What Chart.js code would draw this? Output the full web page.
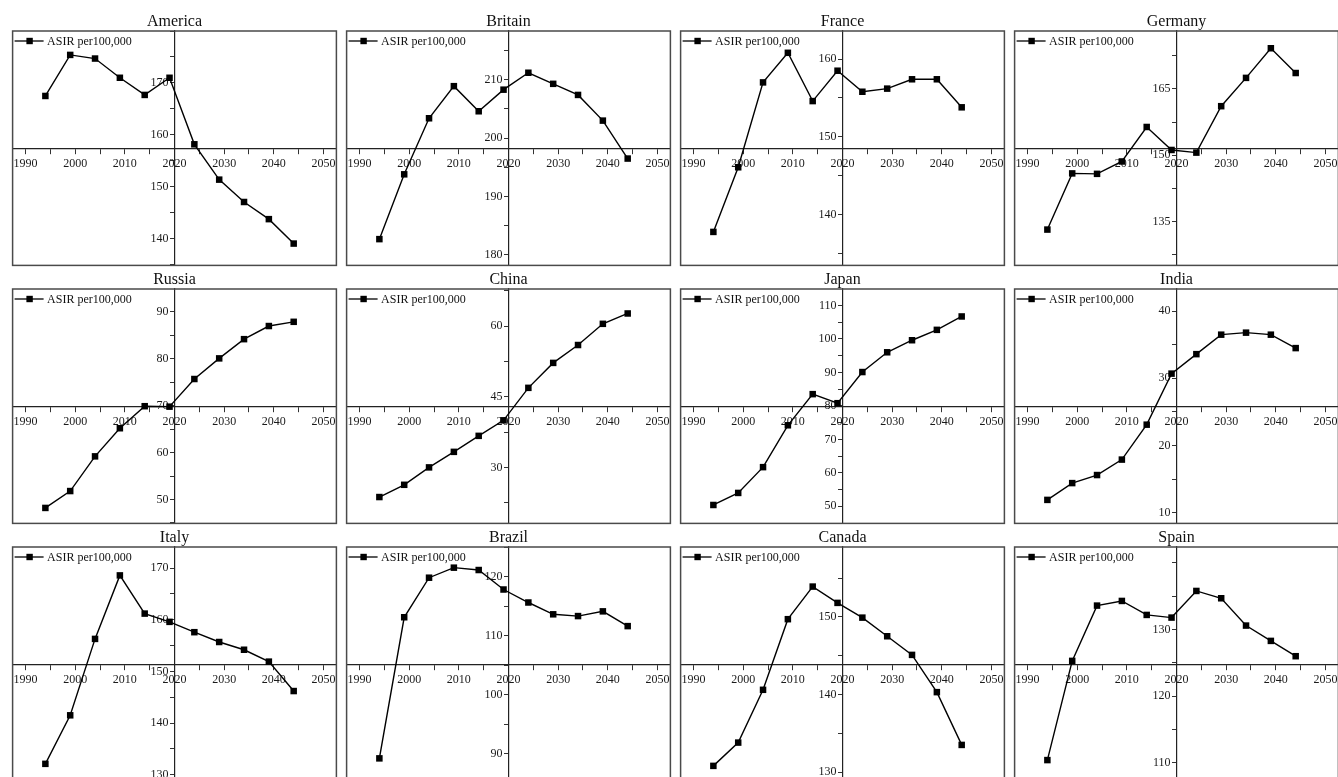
<!DOCTYPE html>
<html><head><meta charset="utf-8">
<script src="https://cdn.jsdelivr.net/npm/chart.js@4.4.1/dist/chart.umd.min.js"></script>
<style>
html,body{margin:0;padding:0;background:#fff;overflow:hidden;width:1338px;height:777px;}
#wrap{position:relative;width:1338px;height:777px;overflow:hidden;background:#fff;}
.panel{position:absolute;}
canvas{display:block;}
</style></head><body><div id="wrap"></div>
<script>
// ---- data ----
const years = [1994, 1999, 2004, 2009, 2014, 2019, 2024, 2029, 2034, 2039, 2044];
const xTickLabels = [1990, 2000, 2010, 2020, 2030, 2040, 2050];
const seriesLabel = 'ASIR per100,000';
const countries = ['America', 'Britain', 'France', 'Germany', 'Russia', 'China', 'Japan', 'India', 'Italy', 'Brazil', 'Canada', 'Spain'];

const america = [167.5, 175.4, 174.7, 171.0, 167.7, 171.0, 158.2, 151.4, 147.1, 143.8, 139.1];
const britain = [182.7, 193.8, 203.4, 208.9, 204.6, 208.3, 211.2, 209.3, 207.4, 203.0, 196.5];
const france  = [137.8, 146.1, 157.0, 160.8, 154.6, 158.5, 155.8, 156.2, 157.4, 157.4, 153.8];
const germany = [133.2, 145.9, 145.8, 148.6, 156.4, 151.2, 150.6, 161.1, 167.5, 174.2, 168.6];
const russia  = [48.2, 51.8, 59.2, 65.2, 69.9, 69.8, 75.7, 80.1, 84.2, 87.0, 87.9];
const china   = [23.7, 26.3, 30.0, 33.3, 36.7, 40.0, 46.9, 52.2, 56.0, 60.5, 62.7];
const japan   = [50.4, 54.0, 61.7, 74.2, 83.5, 80.8, 90.1, 96.0, 99.6, 102.7, 106.7];
const india   = [11.9, 14.4, 15.6, 17.9, 23.1, 30.7, 33.6, 36.5, 36.8, 36.5, 34.5];
const italy   = [132.1, 141.5, 156.3, 168.6, 161.2, 159.6, 157.6, 155.7, 154.2, 151.9, 146.2];
const brazil  = [89.2, 113.1, 119.8, 121.5, 121.1, 117.8, 115.6, 113.6, 113.3, 114.1, 111.6];
const canada  = [130.8, 133.8, 140.6, 149.7, 153.9, 151.8, 149.9, 147.5, 145.1, 140.3, 133.5];
const spain   = [110.4, 125.3, 133.6, 134.3, 132.2, 131.8, 135.8, 134.7, 130.6, 128.3, 126.0];

const americaTicks = [140, 150, 160, 170];
const britainTicks = [180, 190, 200, 210];
const franceTicks  = [140, 150, 160];
const germanyTicks = [135, 150, 165];
const russiaTicks  = [50, 60, 70, 80, 90];
const chinaTicks   = [30, 45, 60];
const japanTicks   = [50, 60, 70, 80, 90, 100, 110];
const indiaTicks   = [10, 20, 30, 40];
const italyTicks   = [130, 140, 150, 160, 170];
const brazilTicks  = [90, 100, 110, 120];
const canadaTicks  = [130, 140, 150];
const spainTicks   = [110, 120, 130];

const seriesValues = [america, britain, france, germany, russia, china, japan, india, italy, brazil, canada, spain];
const yTickLabels = [americaTicks, britainTicks, franceTicks, germanyTicks, russiaTicks, chinaTicks, japanTicks, indiaTicks, italyTicks, brazilTicks, canadaTicks, spainTicks];

// ---- axis ranges (scale settings) ----
const yRanges = [
  [134.9, 180.0], [178.2, 218.35], [133.5, 163.6], [125.1, 178.1],
  [44.9, 94.9], [18.1, 67.9], [44.9, 114.9], [8.4, 43.3],
  [128.7, 174.1], [85.3, 125.0], [128.8, 159.0], [107.2, 142.4]
];
const xRange = [1987.4, 2052.6];
const yAxisAt = 2020;

// ---- layout ----
const colLeft = [11, 345, 679, 1013];
const rowTop = [31, 289, 547];
const boxW = 327, boxH = 236, titleH = 28, padL = 3, padR = 3, padB = 3;
const FONT = "'Liberation Serif', 'Times New Roman', serif";

function ticksWithMinor(majors, lo, hi) {
  const step = majors.length > 1 ? majors[1] - majors[0] : 10;
  const half = step / 2;
  const out = [];
  for (let v = majors[0] - 2 * step; v <= majors[majors.length - 1] + 2 * step + 1e-9; v += half) {
    const r = Math.round(v * 100) / 100;
    if (r >= lo && r <= hi) out.push({ value: r });
  }
  return out;
}
function isMajor(majors, v) { return majors.some(m => Math.abs(m - v) < 1e-6); }

const boxPlugin = {
  id: 'boxFrame',
  afterDraw(chart) {
    const { ctx, chartArea: a } = chart;
    ctx.save();
    ctx.strokeStyle = '#4a4a4a';
    ctx.lineWidth = 1.5;
    ctx.strokeRect(a.left, a.top, a.right - a.left, a.bottom - a.top);
    // legend inside box
    const ds = chart.data.datasets[0];
    const ly = a.top + 10;
    ctx.strokeStyle = '#000';
    ctx.lineWidth = 1.3;
    ctx.beginPath();
    ctx.moveTo(a.left + 2, ly);
    ctx.lineTo(a.left + 31, ly);
    ctx.stroke();
    ctx.fillStyle = '#000';
    ctx.fillRect(a.left + 17 - 3.2, ly - 3.2, 6.4, 6.4);
    ctx.font = '12px ' + FONT;
    ctx.textBaseline = 'middle';
    ctx.textAlign = 'left';
    ctx.fillStyle = '#111';
    ctx.fillText(ds.label, a.left + 34.5, ly + 0.5);
    ctx.restore();
  }
};

const wrap = document.getElementById('wrap');
countries.forEach((name, i) => {
  const col = i % 4, row = Math.floor(i / 4);
  const div = document.createElement('div');
  div.className = 'panel';
  const W = boxW + padL + padR, H = boxH + titleH + padB;
  div.style.left = (colLeft[col] - padL) + 'px';
  div.style.top = (rowTop[row] - titleH) + 'px';
  div.style.width = W + 'px';
  div.style.height = H + 'px';
  const cv = document.createElement('canvas');
  cv.width = W; cv.height = H;
  div.appendChild(cv);
  wrap.appendChild(div);

  const [yMin, yMax] = yRanges[i];
  const majors = yTickLabels[i];
  const yMid = (yMin + yMax) / 2;

  new Chart(cv, {
    type: 'line',
    data: {
      datasets: [{
        label: seriesLabel,
        data: years.map((y, k) => ({ x: y, y: seriesValues[i][k] })),
        borderColor: '#000',
        backgroundColor: '#000',
        borderWidth: 1.4,
        pointStyle: 'rect',
        pointRadius: 4.6,
        pointBorderWidth: 0,
        pointBackgroundColor: '#000',
        tension: 0,
        clip: false
      }]
    },
    options: {
      responsive: false,
      animation: false,
      devicePixelRatio: 1,
      layout: { padding: { left: padL, right: padR, top: 0, bottom: padB } },
      plugins: {
        legend: { display: false },
        tooltip: { enabled: false },
        title: {
          display: true, text: name, color: '#111',
          font: { family: FONT, size: 16, weight: 'normal', lineHeight: 1.2 },
          padding: { top: 8.8, bottom: 0 }
        }
      },
      scales: {
        x: {
          type: 'linear',
          min: xRange[0], max: xRange[1],
          position: { y: yMid },
          afterBuildTicks: s => { s.ticks = ticksWithMinor(xTickLabels, xRange[0], xRange[1]); },
          afterFit: s => { s.paddingLeft = 0; s.paddingRight = 0; s.paddingTop = 0; s.paddingBottom = 0; },
          grid: { drawOnChartArea: false, drawTicks: true, tickLength: 5, color: '#333', tickWidth: 1 },
          border: { display: true, color: '#222', width: 1.2 },
          ticks: {
            autoSkip: false, maxRotation: 0, padding: 3, color: '#1a1a1a',
            font: { family: FONT, size: 12 },
            callback: v => isMajor(xTickLabels, v) ? String(v) : ''
          }
        },
        y: {
          type: 'linear',
          min: yMin, max: yMax,
          position: { x: yAxisAt },
          afterBuildTicks: s => { s.ticks = ticksWithMinor(majors, yMin, yMax); },
          afterFit: s => { s.paddingLeft = 0; s.paddingRight = 0; s.paddingTop = 0; s.paddingBottom = 0; },
          grid: { drawOnChartArea: false, drawTicks: true, tickLength: 4, color: '#333', tickWidth: 1 },
          border: { display: true, color: '#222', width: 1.2 },
          ticks: {
            autoSkip: false, padding: 1, color: '#1a1a1a',
            font: { family: FONT, size: 12 },
            callback: v => isMajor(majors, v) ? String(v) + '\u2002' : ''
          }
        }
      }
    },
    plugins: [boxPlugin]
  });
});
</script>
</body></html>
